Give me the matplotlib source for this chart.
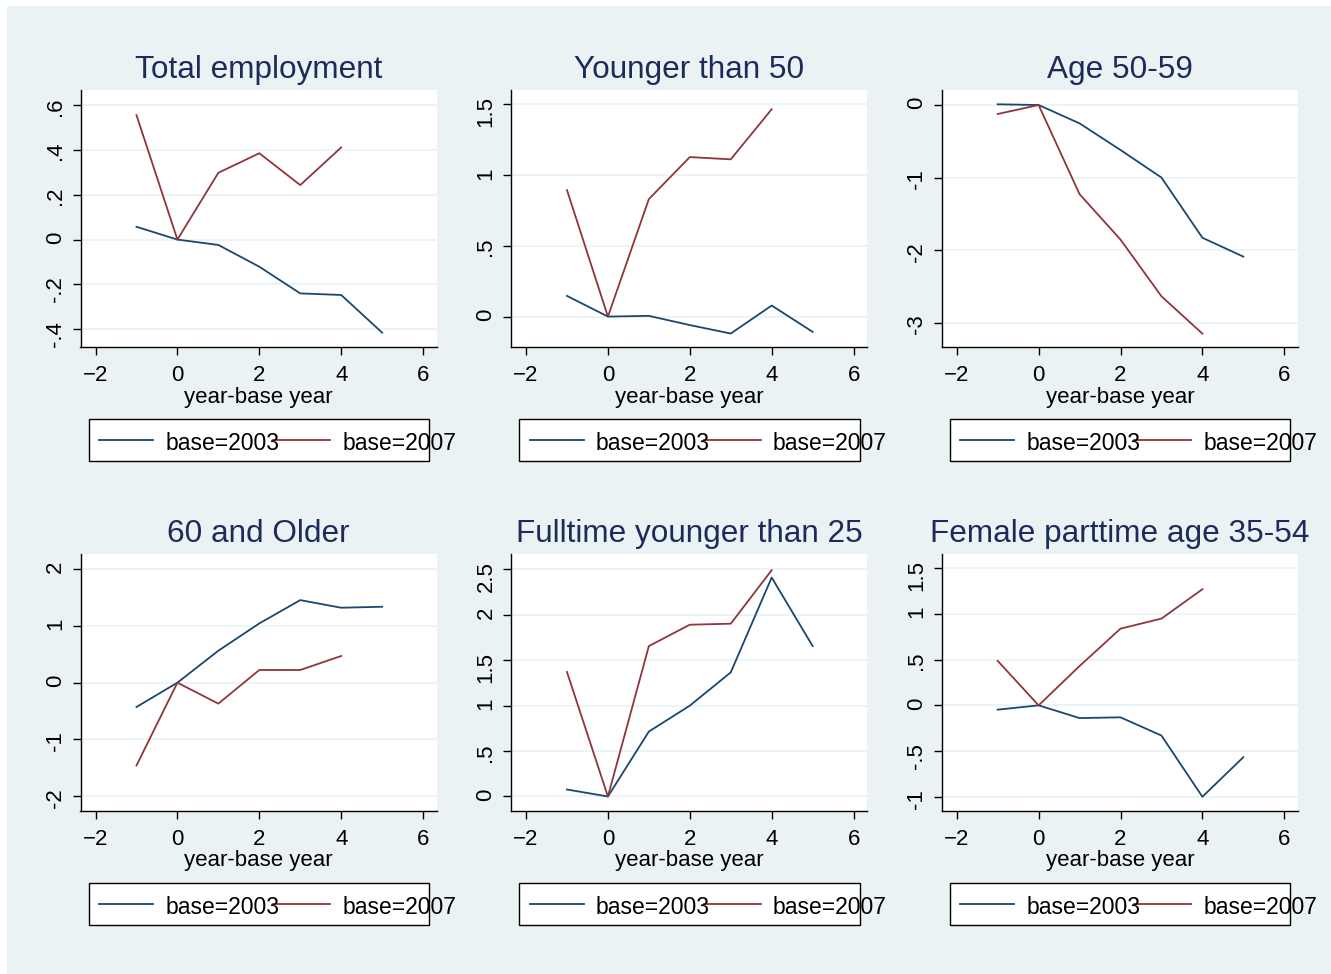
import matplotlib
matplotlib.use("Agg")
import matplotlib.pyplot as plt
from matplotlib.patches import Rectangle
from matplotlib.lines import Line2D

plt.rcParams['font.family'] = ['Liberation Sans', 'DejaVu Sans']

# x = year - base year
x_2003 = [-1, 0, 1, 2, 3, 4, 5]
x_2007 = [-1, 0, 1, 2, 3, 4]

titles = ["Total employment", "Younger than 50", "Age 50-59",
          "60 and Older", "Fulltime younger than 25", "Female parttime age 35-54"]

total_2003 = [0.057, 0.0, -0.024, -0.121, -0.240, -0.247, -0.415]
total_2007 = [0.555, 0.0, 0.298, 0.385, 0.243, 0.411]

young50_2003 = [0.146, 0.0, 0.005, -0.06, -0.12, 0.078, -0.108]
young50_2007 = [0.894, 0.0, 0.830, 1.127, 1.111, 1.465]

age5059_2003 = [0.01, 0.0, -0.253, -0.62, -1.0, -1.83, -2.09]
age5059_2007 = [-0.124, 0.0, -1.229, -1.855, -2.637, -3.152]

old60_2003 = [-0.428, 0.0, 0.562, 1.042, 1.452, 1.318, 1.335]
old60_2007 = [-1.458, 0.0, -0.369, 0.223, 0.223, 0.469]

ft25_2003 = [0.077, 0.0, 0.714, 0.999, 1.365, 2.408, 1.654]
ft25_2007 = [1.369, 0.0, 1.654, 1.889, 1.90, 2.489]

fpt_2003 = [-0.047, 0.0, -0.139, -0.131, -0.33, -1.0, -0.567]
fpt_2007 = [0.487, 0.0, 0.43, 0.839, 0.949, 1.27]

yticks = [[-0.4, -0.2, 0, 0.2, 0.4, 0.6], [0, 0.5, 1, 1.5], [-3, -2, -1, 0],
          [-2, -1, 0, 1, 2], [0, 0.5, 1, 1.5, 2, 2.5], [-1, -0.5, 0, 0.5, 1, 1.5]]
ytick_labels = [["-.4", "-.2", "0", ".2", ".4", ".6"], ["0", ".5", "1", "1.5"],
                ["-3", "-2", "-1", "0"], ["-2", "-1", "0", "1", "2"],
                ["0", ".5", "1", "1.5", "2", "2.5"], ["-1", "-.5", "0", ".5", "1", "1.5"]]
ylims = [(-0.479, 0.667), (-0.215, 1.601), (-3.336, 0.207),
         (-2.249, 2.272), (-0.154, 2.672), (-1.15, 1.661)]

series = [(total_2003, total_2007), (young50_2003, young50_2007),
          (age5059_2003, age5059_2007), (old60_2003, old60_2007),
          (ft25_2003, ft25_2007), (fpt_2003, fpt_2007)]

navy = "#1A476F"
maroon = "#90353B"
bg = "#EAF2F3"
title_col = "#1C2B5A"

W, H = 1331, 974
fig = plt.figure(figsize=(W / 100, H / 100), dpi=100)
fig.patch.set_facecolor("white")
fig.add_artist(Rectangle((7 / W, 0), 1, 1 - 6 / H, transform=fig.transFigure,
                         facecolor=bg, edgecolor="none", zorder=-10))

lefts = [80.5, 511, 941.7]
tops = [90, 553.5]
aw, ah = 356.5, 257


def fx(px):
    return px / W


def fy(py):
    return 1 - py / H


for i in range(6):
    r, c = divmod(i, 3)
    L, T = lefts[c], tops[r]
    B = T + ah
    ax = fig.add_axes([fx(L), fy(B), aw / W, ah / H])
    ax.set_facecolor("white")
    s03, s07 = series[i]
    ax.plot(x_2003, s03, color=navy, lw=1.3, zorder=3)
    ax.plot(x_2007, s07, color=maroon, lw=1.3, zorder=3)
    ax.set_xlim(-2.367, 6.34)
    ax.set_ylim(*ylims[i])
    ax.set_xticks([-2, 0, 2, 4, 6])
    ax.set_yticks(yticks[i])
    ax.set_yticklabels(ytick_labels[i])
    ax.grid(axis="y", color=bg, lw=1.2, zorder=1)
    ax.grid(axis="x", visible=False)
    for side in ["top", "right"]:
        ax.spines[side].set_visible(False)
    for side in ["left", "bottom"]:
        ax.spines[side].set_linewidth(1.0)
        ax.spines[side].set_color("black")
    ax.tick_params(direction="out", length=6, width=1.0, labelsize=16, colors="black")
    ax.tick_params(axis="y", labelrotation=90, pad=4.5)
    ax.tick_params(axis="x", pad=7)
    ax.set_xlabel("year-base year", fontsize=16, labelpad=0.5)
    ax.set_title(titles[i], fontsize=22.7, color=title_col, pad=8.5)

    # Stata style legend below each panel
    fig.add_artist(Rectangle((fx(L + 8), fy(B + 114.5)), 340.5 / W, 42 / H,
                             transform=fig.transFigure, facecolor="white",
                             edgecolor="black", lw=1.0, zorder=5))
    ly = fy(B + 93)
    fig.add_artist(Line2D([fx(L + 18.5), fx(L + 72.5)], [ly, ly],
                          transform=fig.transFigure, color=navy, lw=1.3, zorder=6))
    fig.text(fx(L + 85), fy(B + 103.5), "base=2003", fontsize=16.5, va="baseline", zorder=7)
    fig.add_artist(Line2D([fx(L + 192.5), fx(L + 249.5)], [ly, ly],
                          transform=fig.transFigure, color=maroon, lw=1.3, zorder=6))
    fig.text(fx(L + 262), fy(B + 103.5), "base=2007", fontsize=16.5, va="baseline", zorder=7)

fig.savefig("out.png", dpi=100, facecolor=fig.get_facecolor())
